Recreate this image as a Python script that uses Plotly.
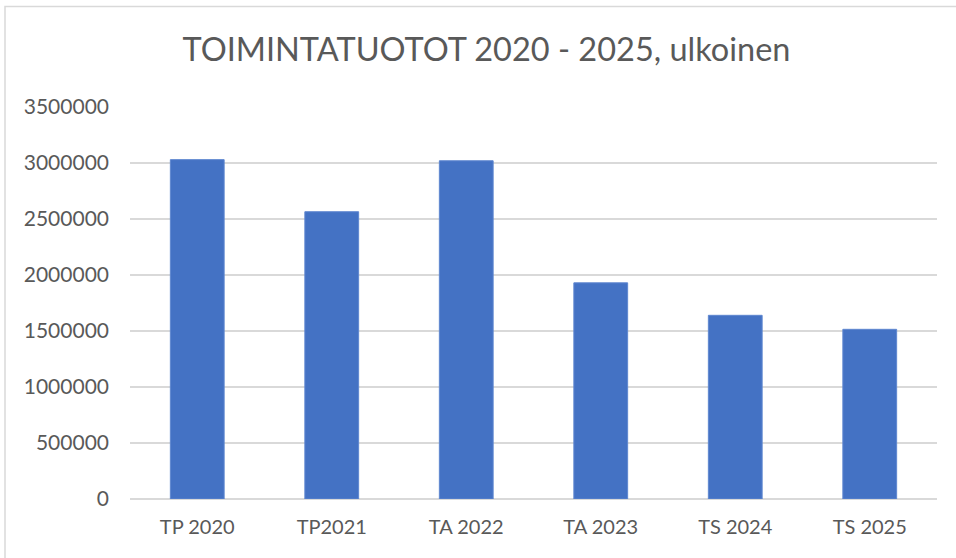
import plotly.graph_objects as go

categories = ["TP 2020", "TP2021", "TA 2022", "TA 2023", "TS 2024", "TS 2025"]
values = [3030000, 2565000, 3020000, 1930000, 1640000, 1515000]
tick_vals = [0, 500000, 1000000, 1500000, 2000000, 2500000, 3000000, 3500000]
title_text = "TOIMINTATUOTOT 2020 - 2025, ulkoinen"

W, H = 956, 558
L, R, T, B = 130, 19, 107, 59
pw, ph = W - L - R, H - T - B

fig = go.Figure(go.Bar(
    x=categories, y=values,
    marker=dict(color="#4472C4", line=dict(color="#5F87D0", width=1)),
))

fig.update_layout(
    width=W, height=H,
    margin=dict(l=L, r=R, t=T, b=B),
    paper_bgcolor="white", plot_bgcolor="white",
    bargap=0.6,
    showlegend=False,
    font=dict(family="Lato, Carlito, sans-serif", color="#595959"),
    title=dict(text=title_text, x=486.5 / W, xref="container", xanchor="center",
               y=1 - 50 / H, yref="container", yanchor="middle",
               font=dict(size=32.5, color="#595959", family="Lato, sans-serif")),
    xaxis=dict(showgrid=False, showline=False, ticks="", tickfont=dict(size=20),
               ticklabelstandoff=14),
    yaxis=dict(range=[0, 3500000], tickvals=tick_vals, tickformat="d",
               showgrid=True, gridcolor="#D9D9D9", gridwidth=1.5,
               zeroline=True, zerolinecolor="#D9D9D9", zerolinewidth=1.5,
               showline=False, ticks="", tickfont=dict(size=21),
               ticklabelstandoff=20),
    shapes=[dict(type="rect", xref="paper", yref="paper",
                 x0=(5 - L) / pw, x1=(W + 20 - L) / pw,
                 y0=-(H + 20 - (T + ph)) / ph, y1=(T + ph - 6.5) / ph,
                 line=dict(color="#D9D9D9", width=1.5), fillcolor="rgba(0,0,0,0)",
                 layer="below")],
)

fig.write_html("out.html", config={"displayModeBar": False},
               post_script="document.body.style.margin='0';document.body.style.padding='0';document.body.style.overflow='hidden';")
